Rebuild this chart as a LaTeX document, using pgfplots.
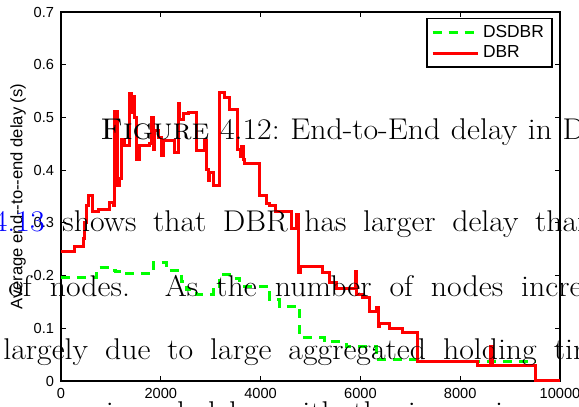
\documentclass[border=0pt]{standalone}
\usepackage{fontspec}
\usepackage{xcolor}
\usepackage{graphicx}
\usepackage{pgfplots}
\usepackage{pgfplotstable}
\pgfplotsset{compat=1.18}
\newfontfamily\plotfont{Liberation Sans}

% DBR: average end-to-end delay, held constant until the next sample
\pgfplotstableread{
x y
0 0.245
280 0.256
447 0.270
480 0.300
513 0.332
560 0.351
640 0.322
747 0.326
980 0.339
1047 0.332
1080 0.511
1130 0.370
1180 0.385
1213 0.459
1280 0.446
1380 0.545
1420 0.510
1440 0.540
1480 0.500
1520 0.421
1580 0.446
1780 0.450
1813 0.500
1850 0.440
1880 0.475
1947 0.462
2013 0.427
2047 0.457
2280 0.434
2347 0.527
2380 0.497
2447 0.507
2547 0.510
2713 0.437
2880 0.456
2920 0.402
2947 0.380
2980 0.396
3047 0.370
3180 0.548
3280 0.538
3380 0.515
3547 0.440
3600 0.425
3620 0.445
3650 0.420
3680 0.413
3980 0.351
4113 0.336
4180 0.332
4300 0.322
4613 0.290
4713 0.315
4760 0.205
4800 0.218
5247 0.205
5380 0.187
5513 0.175
5900 0.208
5930 0.164
6047 0.158
6180 0.132
6330 0.140
6360 0.103
6380 0.109
6580 0.100
6847 0.092
7147 0.037
8347 0.029
8613 0.065
8640 0.030
9513 0.000
10000 0.000
}\dbr

% DSDBR: average end-to-end delay
\pgfplotstableread{
x y
0 0.197
713 0.215
980 0.210
1100 0.207
1180 0.203
1847 0.225
2113 0.210
2413 0.189
2513 0.173
2713 0.165
3047 0.180
3180 0.202
3447 0.195
3580 0.180
4180 0.154
4380 0.142
4780 0.082
5280 0.074
5713 0.065
6313 0.040
7147 0.037
9513 0.037
}\dsdbr

\newcommand\pagetext[1]{\scalebox{1.06}[1]{#1}}

\begin{document}
\begin{tikzpicture}
\clip (0,0) rectangle (289.5pt,203.5pt);
\begin{axis}[
  at={(30.5pt,13pt)}, anchor=south west,
  scale only axis, width=249.5pt, height=184.5pt,
  xmin=0, xmax=10000, ymin=0, ymax=0.7,
  xtick={0,2000,...,10000},
  ytick={0,0.1,...,0.7},
  scaled x ticks=false,
  xticklabel style={/pgf/number format/1000 sep={}},
  yticklabel style={/pgf/number format/fixed,/pgf/number format/precision=1},
  /pgf/number format/assume math mode=true,
  tick label style={font=\plotfont\fontsize{7.3}{8}\selectfont},
  tick align=inside, major tick length=2.5pt,
  every tick/.style={black, line width=0.5pt},
  axis line style={line width=0.75pt},
  clip=false,
  ylabel={Average end--to--end delay (s)},
  ylabel style={font=\plotfont\fontsize{8.3}{9}\selectfont, at={(axis description cs:-0.086,0.5)}, anchor=center},
  legend style={font=\plotfont\fontsize{8.7}{9}\selectfont, at={(axis description cs:0.985,0.983)}, anchor=north east,
    draw=black, line width=0.6pt, inner xsep=2pt, inner ysep=1pt, row sep=-1pt},
  legend cell align=left,
  legend image code/.code={\draw[#1] (0pt,0pt) -- (22.5pt,0pt);},
]
\addplot[const plot mark left, green, line width=1.5pt, dash pattern=on 4.5pt off 3.5pt] table[x=x,y=y] {\dsdbr};
\addlegendentry{DSDBR}
\addplot[const plot mark left, red, line width=1.5pt] table[x=x,y=y] {\dbr};
\addlegendentry{DBR}
\end{axis}
% running text of the page printed across the figure
\begin{scope}[every node/.style={inner sep=0pt, anchor=base west, font=\fontsize{15}{18}\selectfont}]
\node at (50pt,133.5pt) {\pagetext{\spaceskip=5pt\xspaceskip=5pt \textsc{Figure} 4.12: End-to-End delay in DSDBR and DBR}};
\node[anchor=base east] at (22.5pt,87.65pt) {\pagetext{\textcolor{blue}{4.13}}};
\node at (31pt,87.65pt) {\pagetext{\spaceskip=7.8pt shows that DBR has larger delay than DSDBR}};
\node at (4pt,55.15pt) {\pagetext{\spaceskip=8.5pt\xspaceskip=16.5pt of nodes. As the number of nodes increases}};
\node at (1.5pt,23.85pt) {\pagetext{\spaceskip=8pt largely due to large aggregated holding time}};
\node at (18pt,-8pt) {\pagetext{\spaceskip=7pt experienced delay with the increasing number of}};
\end{scope}
\end{tikzpicture}
\end{document}
